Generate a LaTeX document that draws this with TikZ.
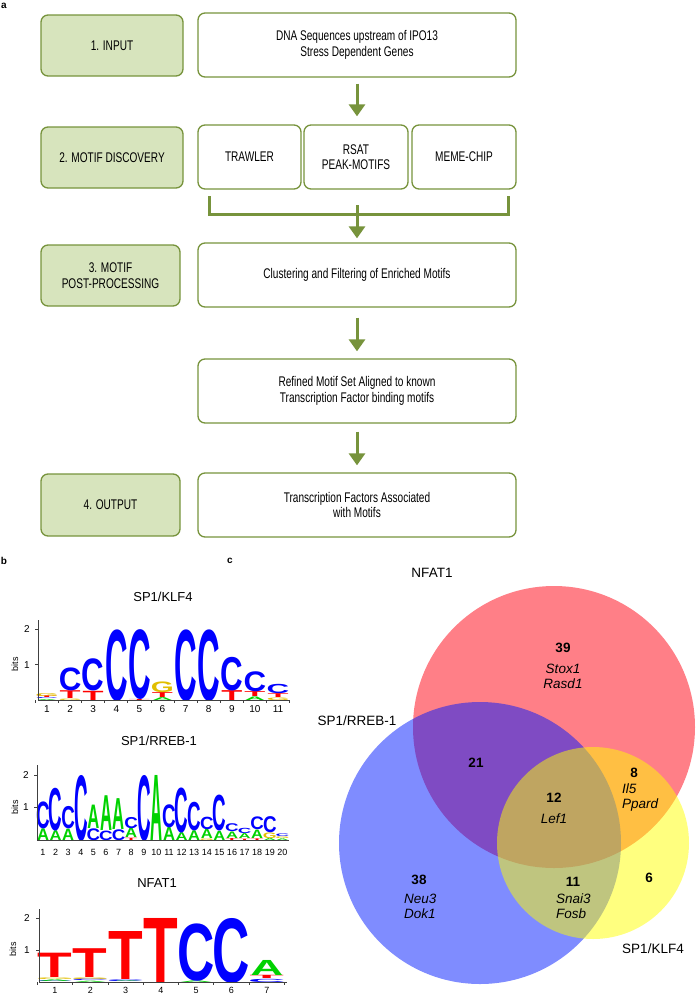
\documentclass[tikz,border=0pt]{standalone}
\usepackage{fontspec}
\setmainfont{Liberation Sans}
\newfontfamily\flowfont[FakeStretch=0.72]{Liberation Sans}
\usetikzlibrary{arrows.meta}
\definecolor{fgreen}{RGB}{119,147,60}
\definecolor{lgreen}{RGB}{215,228,189}
\definecolor{colA}{RGB}{0,210,0}
\definecolor{colC}{RGB}{0,0,255}
\definecolor{colG}{RGB}{225,190,0}
\definecolor{colT}{RGB}{255,0,0}
\definecolor{vred}{RGB}{255,0,15}
\definecolor{vblue}{RGB}{0,25,255}
\definecolor{vyel}{RGB}{255,255,0}
\newcommand\flowtext{\flowfont\fontsize{14}{15.5}\selectfont}
\newcommand\venntext{\fontsize{13.5}{15}\selectfont}
\def\fA{1.0}\def\fC{1.13}\def\fG{1.15}\def\fT{1.05}
\newcount\ltrn
\newcommand\logo[5]{%
  \xdef\cum{0}%
  \foreach \L/\v in {#5}{%
    \pgfmathsetmacro\hh{\v*#4}%
    \pgfmathsetmacro\yb{#2-\cum}%
    \pgfmathsetmacro\ww{#3*\csname f\L\endcsname}%
    \global\advance\ltrn by 1
    \node[inner sep=0pt, outer sep=0pt, anchor=south, text=col\L] (ltr\the\ltrn) at (#1,\yb) {\resizebox{\ww pt}{\hh pt}{\raisebox{0pt}[\height][0pt]{\bfseries \L}}};%
    \pgfmathsetmacro\nc{\cum+\hh}%
    \xdef\cum{\nc}%
  }%
}
\begin{document}
\begin{tikzpicture}[x=1pt,y=-1pt,
  box/.style={draw=fgreen, line width=1.3pt, rounded corners=7pt, align=center, font=\flowtext, inner sep=0pt},
  stage/.style={box, fill=lgreen},
  flowarrow/.style={draw=fgreen, line width=3pt, -{Triangle[width=16pt,length=12pt]}},
  bracket/.style={draw=fgreen, line width=3pt},
  panel/.style={font=\bfseries\fontsize{10}{12}\selectfont, inner sep=0pt},
  ttl/.style={font=\fontsize{13}{15}\selectfont, inner sep=0pt},
  ticklab/.style={font=\fontsize{10}{12}\selectfont, inner sep=0pt},
  smalltick/.style={font=\fontsize{9}{11}\selectfont, inner sep=0pt},
  bitslab/.style={font=\fontsize{9}{11}\selectfont, inner sep=0pt, rotate=90},
  axis/.style={draw=black!75, line width=0.8pt},
  vlab/.style={font=\venntext, inner sep=0pt},
  vnum/.style={font=\venntext\bfseries, inner sep=0pt},
  vgene/.style={font=\venntext\itshape, inner sep=0pt, align=left}
]
\useasboundingbox (0,0) rectangle (700,994);

% panel labels
\node[panel] (la) at (4,6) {a};
\node[panel] (lb) at (4,561) {b};
\node[panel] (lc) at (230,561) {c};

% ---------- flowchart ----------
\node[stage, minimum width=142pt, minimum height=61pt] (in) at (112,45.5) {1. INPUT};
\node[box, minimum width=318pt, minimum height=64pt] (dna) at (357,45) {DNA Sequences upstream of IPO13\\Stress Dependent Genes};
\node[stage, minimum width=142pt, minimum height=61pt] (md) at (112,157.5) {2. MOTIF DISCOVERY};
\node[box, minimum width=103pt, minimum height=64pt] (trawler) at (249.5,157) {TRAWLER};
\node[box, minimum width=104pt, minimum height=64pt] (rsat) at (356,157) {RSAT\\PEAK-MOTIFS};
\node[box, minimum width=104pt, minimum height=64pt] (meme) at (464,157) {MEME-CHIP};
\node[stage, minimum width=139pt, minimum height=61pt] (pp) at (110.5,275.5) {3. MOTIF\\POST-PROCESSING};
\node[box, minimum width=318pt, minimum height=64pt] (clust) at (357,275) {Clustering and Filtering of Enriched Motifs};
\node[box, minimum width=318pt, minimum height=64pt] (refined) at (357,391) {Refined Motif Set Aligned to known\\Transcription Factor binding motifs};
\node[stage, minimum width=139pt, minimum height=62pt] (out) at (110.5,505) {4. OUTPUT};
\node[box, minimum width=318pt, minimum height=64pt] (tf) at (357,505) {Transcription Factors Associated\\with Motifs};

\draw[flowarrow, shorten <=6pt, shorten >=8pt] (dna.south) -- (dna.south |- rsat.north);
\coordinate (bl1) at (209,196);
\coordinate (bl2) at (209,214);
\coordinate (br2) at (508,214);
\coordinate (br1) at (508,196);
\draw[bracket] (bl1) -- (bl2) -- (br2) -- (br1);
\coordinate (bm) at (357,205);
\draw[flowarrow, shorten >=4pt] (bm) -- (clust.north);
\draw[flowarrow, shorten <=10pt, shorten >=7pt] (clust.south) -- (refined.north);
\draw[flowarrow, shorten <=8pt, shorten >=7pt] (refined.south) -- (tf.north);

% ---------- logo SP1/KLF4 ----------
\node[ttl] (t1) at (163,597) {SP1/KLF4};
\logo{47}{700}{20}{35.3}{A/0.03,C/0.03,T/0.05,G/0.08}
\logo{70.1}{700}{20}{35.3}{G/0.04,T/0.22,C/0.64}
\logo{93.2}{700}{20}{35.3}{T/0.26,C/0.9}
\logo{116.3}{700}{20}{35.3}{C/2.0}
\logo{139.4}{700}{20}{35.3}{T/0.03,C/1.95}
\logo{162.5}{700}{20}{35.3}{A/0.08,T/0.14,G/0.3}
\logo{185.6}{700}{20}{35.3}{C/2.0}
\logo{208.7}{700}{20}{35.3}{C/2.0}
\logo{231.8}{700}{20}{35.3}{T/0.28,C/0.94}
\logo{254.9}{700}{20}{35.3}{A/0.1,T/0.14,C/0.56}
\logo{278}{700}{20}{35.3}{G/0.07,T/0.11,C/0.26}
\coordinate (k0) at (38,700);
\coordinate (k2) at (38,620);
\coordinate (ke) at (290,700);
\draw[axis] (k2) -- (k0) -- (ke);
\foreach \i in {0,...,11}{\draw[axis] (35.45+23.1*\i,700) -- (35.45+23.1*\i,702.5);}
\draw[axis] (38,629.4) -- (35,629.4);
\draw[axis] (38,664.7) -- (35,664.7);
\node[ticklab] (k2l) at (27,629.4) {2};
\node[ticklab] (k1l) at (27,664.7) {1};
\node[bitslab] (kb) at (15,664) {bits};
\foreach \i in {1,...,11}{\node[ticklab] (kx\i) at (47+23.1*\i-23.1,709) {\i};}

% ---------- logo SP1/RREB-1 ----------
\node[ttl] (t2) at (159,741) {SP1/RREB-1};
\logo{43}{840}{12}{32.5}{A/0.36,C/0.82}
\logo{55.6}{840}{12}{32.5}{A/0.3,C/1.3}
\logo{68.2}{840}{12}{32.5}{A/0.35,C/0.68}
\logo{80.8}{840}{12}{32.5}{C/2.0}
\logo{93.4}{840}{12}{32.5}{C/0.36,A/0.72}
\logo{106}{840}{12}{32.5}{C/0.29,A/1.07}
\logo{118.6}{840}{12}{32.5}{C/0.33,A/0.95}
\logo{131.2}{840}{12}{32.5}{T/0.07,A/0.29,C/0.34}
\logo{143.8}{840}{12}{32.5}{C/2.0}
\logo{156.4}{840}{12}{32.5}{A/2.0}
\logo{169}{840}{12}{32.5}{A/0.4,C/0.7}
\logo{181.6}{840}{12}{32.5}{A/0.24,C/1.37}
\logo{194.2}{840}{12}{32.5}{A/0.3,C/0.87}
\logo{206.8}{840}{12}{32.5}{G/0.05,A/0.28,C/0.38}
\logo{219.4}{840}{12}{32.5}{A/0.28,C/1.09}
\logo{232}{840}{12}{32.5}{T/0.06,A/0.2,C/0.24}
\logo{244.6}{840}{12}{32.5}{T/0.04,A/0.15,C/0.16}
\logo{257.2}{840}{12}{32.5}{T/0.05,A/0.26,C/0.39}
\logo{269.8}{840}{12}{32.5}{A/0.06,G/0.17,C/0.49}
\logo{282.4}{840}{12}{32.5}{A/0.05,G/0.05,C/0.08}
\coordinate (r0) at (37,840);
\coordinate (r2) at (37,765);
\coordinate (re) at (289,840);
\draw[axis] (r2) -- (r0) -- (re);
\draw[axis] (37,775) -- (34,775);
\draw[axis] (37,807.5) -- (34,807.5);
\node[ticklab] (r2l) at (26,775) {2};
\node[ticklab] (r1l) at (26,807.5) {1};
\node[bitslab] (rb) at (15,807) {bits};
\foreach \i in {1,...,20}{\node[smalltick] (rx\i) at (43+12.6*\i-12.6,852.5) {\i};}

% ---------- logo NFAT1 ----------
\node[ttl] (t3) at (157,883) {NFAT1};
\logo{55}{982}{33}{32}{C/0.03,A/0.05,G/0.05,T/0.76}
\logo{90.3}{982}{33}{32}{A/0.04,C/0.05,G/0.05,T/0.9}
\logo{125.6}{982}{33}{32}{A/0.03,C/0.05,T/1.5}
\logo{160.9}{982}{33}{32}{T/2.0}
\logo{196.2}{982}{33}{32}{A/0.05,C/1.77}
\logo{231.5}{982}{33}{32}{C/2.0}
\logo{266.8}{982}{33}{32}{C/0.1,T/0.1,A/0.47}
\coordinate (n0) at (39,982);
\coordinate (n2) at (39,909);
\coordinate (ne) at (287,982);
\draw[axis] (n2) -- (n0) -- (ne);
\foreach \i in {0,...,7}{\draw[axis] (37.35+35.3*\i,982) -- (37.35+35.3*\i,984.5);}
\draw[axis] (39,918) -- (36,918);
\draw[axis] (39,950) -- (36,950);
\node[ticklab] (n2l) at (27,918) {2};
\node[ticklab] (n1l) at (27,950) {1};
\node[bitslab] (nb) at (13,949) {bits};
\foreach \i in {1,...,7}{\node[smalltick] (nx\i) at (55+35.3*\i-35.3,990) {\i};}

% ---------- Venn ----------
\fill[vred, fill opacity=0.5] (554,727) circle (141);
\fill[vblue, fill opacity=0.5] (480,843) circle (141);
\fill[vyel, fill opacity=0.5] (593,843) circle (96);
\node[vlab] (vn) at (432,573) {NFAT1};
\node[vlab] (vr) at (357,721) {SP1/RREB-1};
\node[vlab] (vk) at (653,949) {SP1/KLF4};
\node[vnum] (n39) at (563,648) {39};
\node[vgene, align=center] (g39) at (563,676) {Stox1\\Rasd1};
\node[vnum] (n21) at (476,763) {21};
\node[vnum] (n12) at (554,798) {12};
\node[vgene] (g12) at (554,819) {Lef1};
\node[vnum] (n8) at (634,773) {8};
\node[vgene, anchor=west] (g8) at (622,797) {Il5\\Ppard};
\node[vnum] (n6) at (649,878) {6};
\node[vnum] (n38) at (419,880) {38};
\node[vgene, anchor=west] (g38) at (404,906) {Neu3\\Dok1};
\node[vnum] (n11) at (573,882) {11};
\node[vgene, anchor=west] (g11) at (556,906) {Snai3\\Fosb};
\end{tikzpicture}
\end{document}
